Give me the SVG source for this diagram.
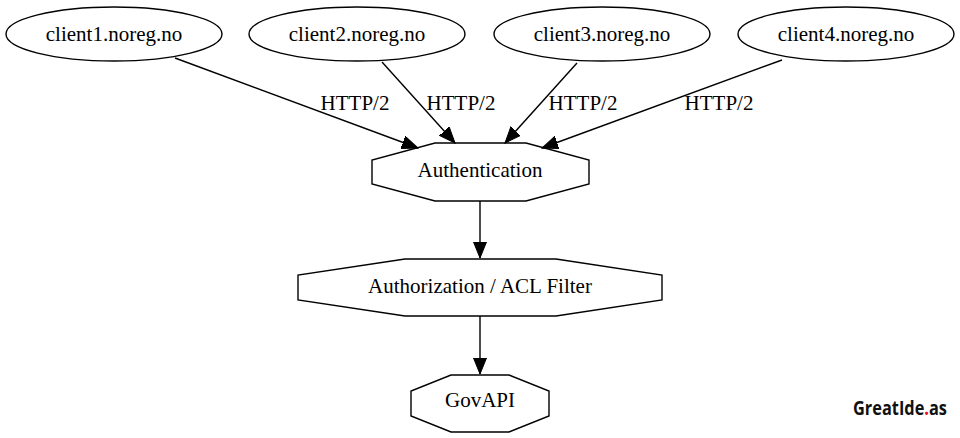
<svg xmlns="http://www.w3.org/2000/svg" width="960" height="438" viewBox="0 0 960 438">
<style>
.shape{fill:#fff;stroke:#000;stroke-width:1.4}
.lbl{font-family:"Liberation Serif","Times New Roman",serif;font-size:21px;fill:#000;text-anchor:middle}
.edge{stroke:#000;stroke-width:1.4;fill:none}
.logo{font-family:"Open Sans","DejaVu Sans",sans-serif;font-weight:bold;font-size:19px;fill:#111}
</style>
<defs>
<marker id="arr" markerUnits="userSpaceOnUse" markerWidth="17" markerHeight="14" refX="16" refY="6.5" orient="auto" viewBox="0 0 17 14">
<path d="M0,0 L16,6.5 L0,13 z" fill="#000" stroke="#000" stroke-width="1"/>
</marker>
</defs>
<rect width="960" height="438" fill="#fff"/>
<g id="client1"><ellipse class="shape" cx="114" cy="34" rx="108" ry="27"/><text class="lbl" x="114" y="41">client1.noreg.no</text></g>
<g id="client2"><ellipse class="shape" cx="357" cy="34" rx="108" ry="27"/><text class="lbl" x="357" y="41">client2.noreg.no</text></g>
<g id="client3"><ellipse class="shape" cx="602" cy="34" rx="108" ry="27"/><text class="lbl" x="602" y="41">client3.noreg.no</text></g>
<g id="client4"><ellipse class="shape" cx="846" cy="34" rx="108" ry="27"/><text class="lbl" x="846" y="41">client4.noreg.no</text></g>
<g id="authentication"><polygon class="shape" points="435,143 526,143 589,160 589,184 526,201 435,201 372,184 372,160"/><text class="lbl" x="480" y="177">Authentication</text></g>
<g id="authorization"><polygon class="shape" points="405,259 556,259 662,275 662,300 556,316 405,316 298,300 298,275"/><text class="lbl" x="480" y="293">Authorization / ACL Filter</text></g>
<g id="govapi"><polygon class="shape" points="451,375 509,375 549,391 549,416 509,432 451,432 411,416 411,391"/><text class="lbl" x="480" y="407">GovAPI</text></g>
<g id="connectors">
<line class="edge" x1="175" y1="58" x2="418" y2="148" marker-end="url(#arr)"/>
<line class="edge" x1="382" y1="62" x2="455" y2="143" marker-end="url(#arr)"/>
<line class="edge" x1="577" y1="63" x2="505" y2="143" marker-end="url(#arr)"/>
<line class="edge" x1="782" y1="60" x2="542" y2="148" marker-end="url(#arr)"/>
<line class="edge" x1="480" y1="201" x2="480" y2="258" marker-end="url(#arr)"/>
<line class="edge" x1="480" y1="316" x2="480" y2="374" marker-end="url(#arr)"/>
<text class="lbl" x="355" y="110">HTTP/2</text>
<text class="lbl" x="461" y="110">HTTP/2</text>
<text class="lbl" x="583" y="110">HTTP/2</text>
<text class="lbl" x="719" y="110">HTTP/2</text>
</g>
<g id="logo"><text class="logo" x="853" y="415" textLength="94" lengthAdjust="spacingAndGlyphs">GreatIde<tspan style="fill:#e0001b">.</tspan>as</text></g>
</svg>
